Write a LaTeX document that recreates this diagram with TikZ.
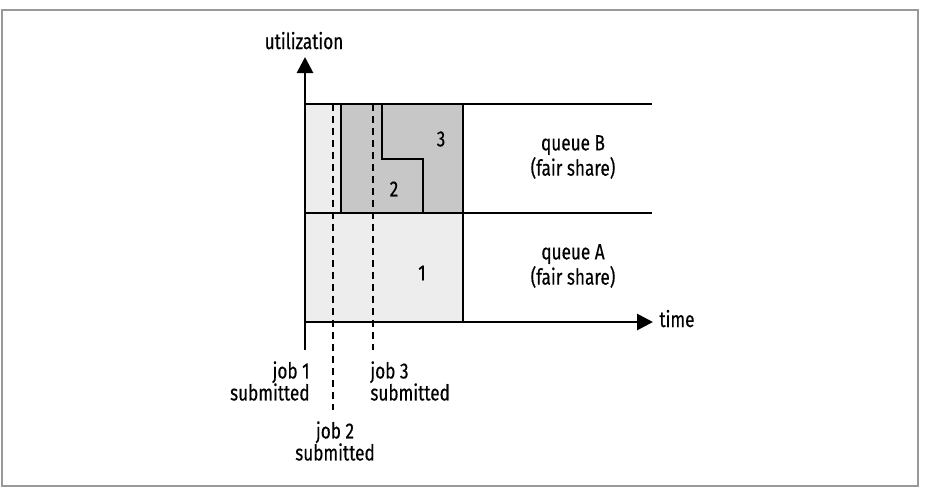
\documentclass[tikz,border=0pt]{standalone}
\usepackage{fontspec}
\setmainfont[FakeStretch=0.78, FakeBold=0.4]{Fira Sans}
\usetikzlibrary{arrows.meta,positioning}
\definecolor{joblight}{gray}{0.93}
\definecolor{jobdark}{gray}{0.78}
\tikzset{
  axis/.style={line width=1.4pt, -{Triangle[length=8pt,width=8pt]}},
  bound/.style={line width=1.4pt},
  submit/.style={line width=1.4pt, dash pattern=on 3.5pt off 2.5pt},
  lbl/.style={font=\fontsize{11}{11}\selectfont, align=center, inner sep=1pt},
}
\begin{document}
\begin{tikzpicture}[x=0.5pt, y=-0.5pt]
	\useasboundingbox (0,0) rectangle (945,494);
	\draw[gray!80, line width=0.9pt] (2,10) rectangle (918,486);
	% corners of the chart
	\coordinate (O) at (305,322);
	\coordinate (ytop) at (305,57);
	\coordinate (ybot) at (305,350);
	\coordinate (xend) at (653,322);
	\coordinate (Btl) at (305,104);
	\coordinate (Btr) at (652,104);
	\coordinate (Al) at (305,213);
	\coordinate (Ar) at (652,213);
	% shaded jobs
	\fill[joblight] (Btl) rectangle (463,322);
	\fill[jobdark] (341,104) rectangle (463,213);
	\draw[bound] (Btl) -- (Btr);
	\draw[bound] (Al) -- (Ar);
	\draw[bound] (341,104) -- (341,213);
	\draw[bound] (382,104) -- (382,159) -- (423,159) -- (423,213);
	\draw[bound] (463,104) -- (463,322);
	% axes
	\draw[axis] (ybot) -- (ytop);
	\draw[axis] (O) -- (xend);
	\node[lbl, anchor=base] (util) at (304,49) {utilization};
	\node[lbl, anchor=base west] (timelbl) at (657,327) {time};
	% queues
	\node[lbl] (qB) at (573,157) {queue B\\(fair share)};
	\node[lbl] (qA) at (573,266) {queue A\\(fair share)};
	\node[lbl] (n3) at (441,139) {3};
	\node[lbl] (n2) at (394,189) {2};
	\node[lbl] (n1) at (422,273) {1};
	% submissions
	\node[lbl, anchor=east, align=right] (j1) at (312,381) {job 1\\submitted};
	\node[lbl, anchor=west, align=left] (j3) at (368,381) {job 3\\submitted};
	\node[lbl] (j2) at (335,441) {job 2\\submitted};
	\coordinate (d2top) at (333,104);
	\coordinate (d2bot) at (333,410);
	\coordinate (d3top) at (373,104);
	\coordinate (d3bot) at (373,350);
	\draw[submit] (d2top) -- (d2bot);
	\draw[submit] (d3top) -- (d3bot);
\end{tikzpicture}
\end{document}
